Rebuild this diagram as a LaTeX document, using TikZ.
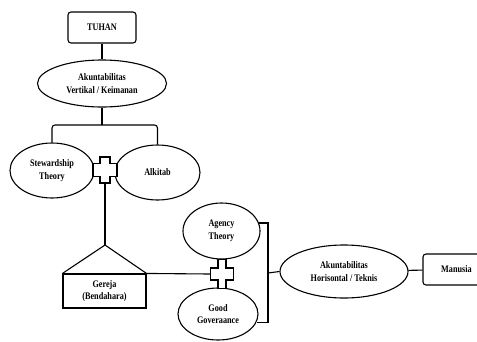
\documentclass[tikz,border=0pt]{standalone}
\usepackage{fontspec}
\setmainfont{Liberation Serif}[FakeStretch=0.82]
\usetikzlibrary{shapes.geometric}
\newcommand\plusshape[5]{%
  \draw[fill=white,shift={(#1)}] (-#4,-#3) -- (#4,-#3) -- (#4,-#5) -- (#2,-#5) -- (#2,#5) -- (#4,#5) -- (#4,#3) -- (-#4,#3) -- (-#4,#5) -- (-#2,#5) -- (-#2,-#5) -- (-#4,-#5) -- cycle;}
\begin{document}
\begin{tikzpicture}[x=1pt,y=-1pt,line width=1.1pt,
  every node/.style={font=\fontsize{10}{12.7}\selectfont\bfseries,align=center,inner sep=0pt},
  ovalnode/.style={draw,ellipse},
  boxnode/.style={draw,rounded corners=3pt}]
\useasboundingbox (0,0) rectangle (477,341);
\node[boxnode,minimum width=68,minimum height=31] (tuhan) at (102,27.5) {TUHAN};
\node[ovalnode,minimum width=129,minimum height=47] (akv) at (102,83.5) {Akuntabilitas\\Vertikal / Keimanan};
\node[ovalnode,minimum width=84,minimum height=55] (stew) at (52,170.5) {Stewardship\\Theory};
\node[ovalnode,minimum width=85,minimum height=55] (alk) at (157.5,172.5) {Alkitab};
\node[draw,minimum width=83,minimum height=34] (gereja) at (104.5,291) {Gereja\\(Bendahara)};
\coordinate (apex) at (105,245);
\coordinate (mid) at (104,125);
\node[ovalnode,minimum width=77,minimum height=56] (agency) at (221.5,231) {Agency\\Theory};
\node[ovalnode,minimum width=80,minimum height=52] (gg) at (218,314) {Good\\Goveraance};
\node[ovalnode,minimum width=128,minimum height=53] (horiz) at (344,271.5) {Akuntabilitas\\Horisontal / Teknis};
\node[boxnode,minimum width=67,minimum height=31] (manusia) at (456.5,269.5) {Manusia};
\node[minimum width=24,minimum height=26] (x1) at (105,170) {};
\node[minimum width=23,minimum height=29] (x2) at (222,274) {};
\coordinate (br) at (268,273);
% connectors
\draw (tuhan) -- (akv);
\draw (akv.south) -- (akv.south |- mid);
\draw[rounded corners=3pt] (stew.north) -- (stew.north |- mid) -- (alk.north |- mid) -- (alk.north);
\draw (x1.south) -- (apex);
\draw (gereja.north west) -- (apex) -- (gereja.north east);
\draw (gereja.north east) -- (x2.west);
\draw (agency.12) -| (br) |- (gg.-12);
\draw (br) -- (horiz.west);
\draw (horiz) -- (manusia);
\plusshape{x1.center}{12}{13}{5}{6.5}
\plusshape{x2.center}{11.5}{14.5}{4}{6}
\end{tikzpicture}
\end{document}
